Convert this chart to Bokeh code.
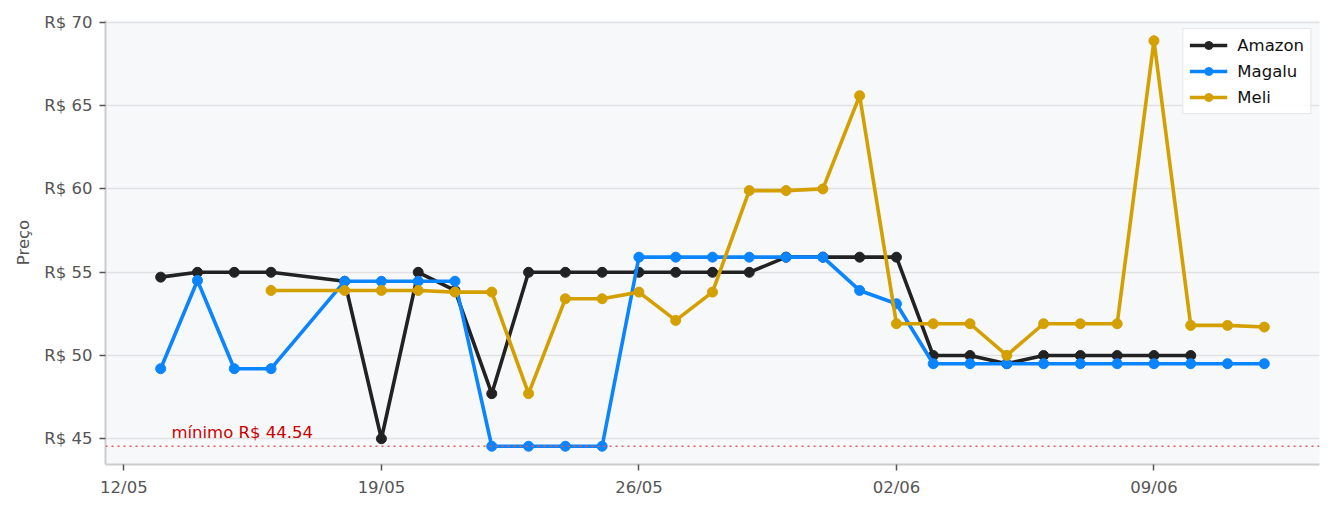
from datetime import datetime, timedelta
from bokeh.plotting import figure
from bokeh.models import (Range1d, FixedTicker, DatetimeTickFormatter, PrintfTickFormatter,
                          Span, Label, Legend)
from bokeh.embed import file_html
from bokeh.resources import INLINE

YEAR = 2024

def d(s):
    dd, mm = s.split("/")
    return datetime(YEAR, int(mm), int(dd))

amazon_dates = ["13/05", "14/05", "15/05", "16/05", "18/05", "19/05", "20/05", "21/05", "22/05",
                "23/05", "24/05", "25/05", "26/05", "27/05", "28/05", "29/05", "30/05", "31/05",
                "01/06", "02/06", "03/06", "04/06", "05/06", "06/06", "07/06", "08/06", "09/06", "10/06"]
amazon_prices = [54.70, 54.99, 54.99, 54.99, 54.45, 44.99, 54.99, 53.90, 47.70,
                 54.99, 54.99, 54.99, 54.99, 54.99, 54.99, 54.99, 55.90, 55.90,
                 55.90, 55.90, 49.99, 49.99, 49.50, 49.99, 49.99, 49.99, 49.99, 49.99]

magalu_dates = ["13/05", "14/05", "15/05", "16/05", "18/05", "19/05", "20/05", "21/05", "22/05",
                "23/05", "24/05", "25/05", "26/05", "27/05", "28/05", "29/05", "30/05", "31/05",
                "01/06", "02/06", "03/06", "04/06", "05/06", "06/06", "07/06", "08/06", "09/06",
                "10/06", "11/06", "12/06"]
magalu_prices = [49.20, 54.50, 49.20, 49.20, 54.45, 54.45, 54.45, 54.45, 44.54,
                 44.54, 44.54, 44.54, 55.90, 55.90, 55.90, 55.90, 55.90, 55.90,
                 53.90, 53.10, 49.50, 49.50, 49.50, 49.50, 49.50, 49.50, 49.50,
                 49.50, 49.50, 49.50]

meli_dates = ["16/05", "18/05", "19/05", "20/05", "21/05", "22/05", "23/05", "24/05", "25/05",
              "26/05", "27/05", "28/05", "29/05", "30/05", "31/05", "01/06", "02/06", "03/06",
              "04/06", "05/06", "06/06", "07/06", "08/06", "09/06", "10/06", "11/06", "12/06"]
meli_prices = [53.90, 53.90, 53.90, 53.90, 53.80, 53.80, 47.70, 53.40, 53.40,
               53.80, 52.10, 53.80, 59.90, 59.90, 60.00, 65.60, 51.90, 51.90,
               51.90, 50.00, 51.90, 51.90, 51.90, 68.90, 51.80, 51.80, 51.70]

tick_labels = ["12/05", "19/05", "26/05", "02/06", "09/06"]
y_ticks = [45, 50, 55, 60, 65, 70]

series = [
    ("Amazon", amazon_dates, amazon_prices, "#222222"),
    ("Magalu", magalu_dates, magalu_prices, "#0a84ff"),
    ("Meli", meli_dates, meli_prices, "#d4a000"),
]

all_dates = [d(s) for _, ds, _, _ in series for s in ds]
all_prices = [v for _, _, vs, _ in series for v in vs]
xmin, xmax = min(all_dates), max(all_dates)
xpad = (xmax - xmin) * 0.05
ymin, ymax = min(all_prices), max(all_prices)
ypad = (ymax - ymin) * 0.05
min_price = ymin

FONT = "DejaVu Sans"
FS = "16.5px"

p = figure(width=1334, height=513, x_axis_type="datetime", output_backend="svg",
           toolbar_location=None,
           x_range=Range1d(xmin - xpad, xmax + xpad),
           y_range=Range1d(ymin - ypad * 0.9, ymax + ypad))
p.min_border_left = 105
p.min_border_right = 15
p.min_border_top = 20
p.min_border_bottom = 49
p.background_fill_color = "#f7f8fa"
p.border_fill_color = "white"
p.outline_line_color = None

p.xgrid.grid_line_color = None
p.ygrid.grid_line_color = "#e0e1e4"
p.ygrid.grid_line_width = 1.5

p.xaxis.ticker = FixedTicker(ticks=[d(t).timestamp() * 1000 for t in tick_labels])
p.xaxis.formatter = DatetimeTickFormatter(days="%d/%m", months="%d/%m", hours="%d/%m")
p.yaxis.ticker = FixedTicker(ticks=y_ticks)
p.yaxis.formatter = PrintfTickFormatter(format="R$ %d")
p.yaxis.axis_label = "Preço"

for ax in (p.xaxis[0], p.yaxis[0]):
    ax.axis_line_color = "#cccccc"
    ax.axis_line_width = 2
    ax.major_tick_line_color = "#555555"
    ax.major_tick_line_width = 1.5
    ax.major_tick_out = 6
    ax.major_tick_in = 0
    ax.minor_tick_line_color = None
    ax.major_label_text_font = FONT
    ax.major_label_text_font_size = FS
    ax.major_label_text_color = "#555555"
    ax.major_label_standoff = 7
    ax.axis_label_text_font = FONT
    ax.axis_label_text_font_size = FS
    ax.axis_label_text_font_style = "normal"
    ax.axis_label_text_color = "#555555"
    ax.axis_label_standoff = 8

span = Span(location=min_price, dimension="width", line_color="#e05a5a",
            line_width=1.5, line_dash="2 4")
p.add_layout(span)

items = []
for name, ds, vs, color in series:
    xs = [d(s) for s in ds]
    r1 = p.line(xs, vs, line_color=color, line_width=3.6)
    r2 = p.scatter(xs, vs, size=10, fill_color=color, line_color=color)
    items.append((name, [r1, r2]))

lab = Label(x=d("13/05") + timedelta(hours=7), y=min_price, y_offset=4,
            text=f"mínimo R$ {min_price:.2f}", text_color="#cc0000",
            text_font=FONT, text_font_size=FS, text_baseline="bottom")
p.add_layout(lab)

legend = Legend(items=items, location="top_right")
legend.label_text_font = FONT
legend.label_text_font_size = FS
legend.label_text_color = "#111111"
legend.glyph_width = 38
legend.glyph_height = 20
legend.spacing = 6
legend.padding = 6
legend.margin = 8
legend.label_standoff = 10
legend.border_line_color = "#d0d0d0"
legend.border_line_width = 1.5
legend.background_fill_color = "white"
legend.background_fill_alpha = 0.9
p.add_layout(legend)

open("out.html", "w").write(file_html(p, INLINE))
